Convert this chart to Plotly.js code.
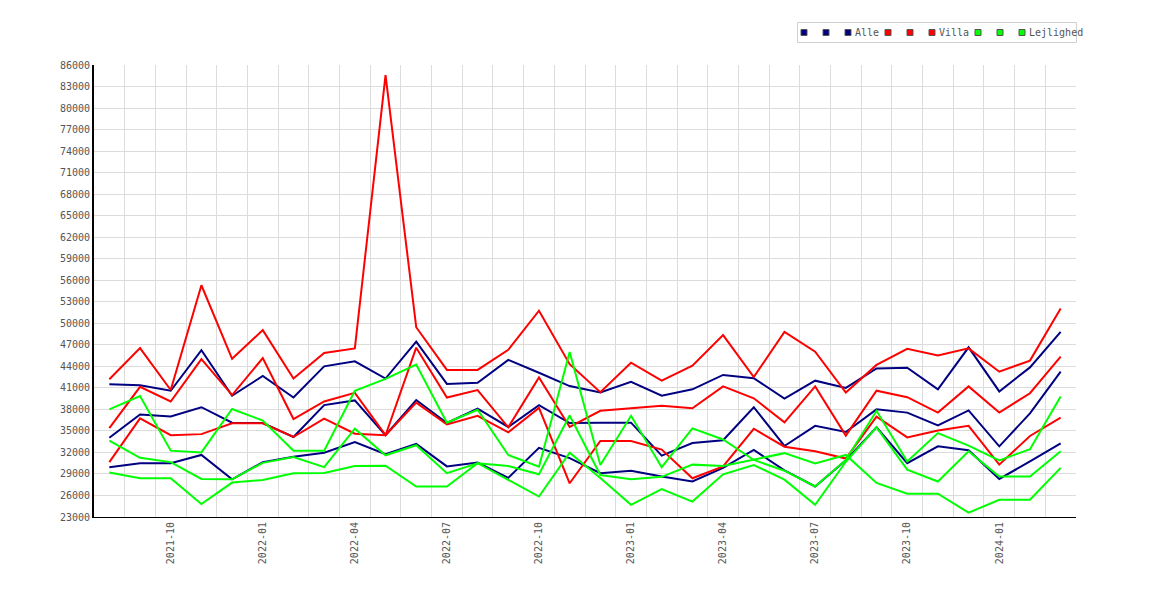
<!DOCTYPE html>
<html>
<head>
<meta charset="utf-8">
<script src="https://cdn.plot.ly/plotly-3.0.1.min.js"></script>
<style>
  body { margin: 0; background: #fff; }
  #chart { width: 1170px; height: 600px; }
</style>
</head>
<body>
<div id="chart"></div>
<script>
// months on the x axis, one point per month
const months = [
  "2021-08", "2021-09", "2021-10", "2021-11", "2021-12", "2022-01", "2022-02", "2022-03",
  "2022-04", "2022-05", "2022-06", "2022-07", "2022-08", "2022-09", "2022-10", "2022-11",
  "2022-12", "2023-01", "2023-02", "2023-03", "2023-04", "2023-05", "2023-06", "2023-07",
  "2023-08", "2023-09", "2023-10", "2023-11", "2023-12", "2024-01", "2024-02", "2024-03",
];

const alle1 = [41500, 41350, 40600, 46250, 39900, 42650, 39650, 44000, 44700, 42300, 47450, 41550, 41700, 44900, 43100, 41250, 40350, 41850, 39900, 40800, 42800, 42350, 39500, 42000, 41000, 43700, 43800, 40800, 46650, 40500, 43850, 48800];
const alle2 = [34050, 37300, 37000, 38300, 36150, 36100, 34150, 38600, 39250, 34400, 39300, 36100, 38100, 35550, 38600, 36100, 36150, 36150, 31550, 33300, 33700, 38300, 32900, 35700, 34850, 38000, 37550, 35750, 37850, 32850, 37450, 43250];
const alle3 = [29950, 30500, 30500, 31650, 28250, 30650, 31400, 31950, 33450, 31750, 33200, 30050, 30600, 28450, 32650, 31200, 29100, 29450, 28650, 27950, 29850, 32350, 29500, 27250, 30900, 35500, 30500, 32850, 32300, 28300, 30750, 33250];

const villa1 = [42200, 46550, 40700, 55300, 45050, 49050, 42300, 45850, 46500, 84600, 49450, 43500, 43500, 46300, 51750, 44300, 40400, 44500, 42000, 44100, 48350, 42500, 48800, 46050, 40350, 44200, 46450, 45500, 46500, 43250, 44800, 52050];
const villa2 = [35400, 41150, 39100, 45000, 40000, 45150, 36650, 39100, 40300, 34400, 46600, 39650, 40700, 35500, 42450, 35550, 37800, 38100, 38500, 38150, 41200, 39550, 36200, 41200, 34350, 40600, 39700, 37550, 41200, 37550, 40250, 45350];
const villa3 = [30650, 36750, 34400, 34550, 36050, 36050, 34150, 36700, 34600, 34400, 38950, 35900, 37100, 34800, 38200, 27700, 33600, 33600, 32400, 28400, 30050, 35300, 32800, 32150, 31150, 37000, 34100, 35050, 35700, 30300, 34300, 36850];

const lejl1 = [38000, 39850, 32250, 32000, 38050, 36450, 32250, 32250, 40600, 42250, 44250, 36150, 37950, 31650, 30000, 46000, 30250, 37100, 29950, 35350, 33800, 30950, 29450, 27250, 30950, 37800, 30750, 34700, 32950, 30900, 32450, 39800];
const lejl2 = [33650, 31250, 30650, 28300, 28250, 30550, 31350, 29950, 35300, 31600, 33000, 29100, 30500, 30100, 28950, 37150, 28850, 28250, 28600, 30300, 30100, 30950, 31900, 30450, 31650, 27750, 26250, 26250, 23600, 25400, 25400, 29850];
const lejl3 = [29200, 28400, 28400, 24800, 27800, 28150, 29100, 29150, 30100, 30150, 27250, 27250, 30500, 28150, 25850, 31950, 28450, 24700, 26900, 25150, 28950, 30250, 28200, 24700, 30700, 35500, 29600, 27950, 32150, 28650, 28650, 32150];

const groupNames = ["Alle", "Villa", "Lejlighed"];
const groupColors = ["#000080", "#ff0000", "#00ff00"];
const groupSeries = [[alle1, alle2, alle3], [villa1, villa2, villa3], [lejl1, lejl2, lejl3]];

const xIdx = months.map((m, i) => i);
// labels only on quarter months, grid lines between the months
const labelIdx = xIdx.filter((i) => /-(01|04|07|10)$/.test(months[i]));
const labelText = labelIdx.map((i) => months[i]);
const boundaries = xIdx.map((i) => i - 0.5).concat([months.length - 0.5]);

const traces = [];
groupSeries.forEach((series, g) => {
  series.forEach((ys) => {
    traces.push({
      type: "scatter",
      mode: "lines",
      x: xIdx,
      y: ys,
      line: { color: groupColors[g], width: 2 },
      hoverinfo: "skip",
    });
  });
});

// plot area in pixels, used to place the hand-made legend
const W = 1170, H = 600;
const M = { l: 94, r: 94, t: 65, b: 83 };
const px2x = (px) => (px - M.l) / (W - M.l - M.r);
const py2y = (py) => (H - M.b - py) / (H - M.t - M.b);

const shapes = [{
  type: "rect", xref: "paper", yref: "paper", layer: "above",
  x0: px2x(797.5), x1: px2x(1076.5), y0: py2y(42.5), y1: py2y(22.5),
  line: { color: "#d0d0d0", width: 1 }, fillcolor: "#fff",
}];
const annotations = [];
let cursor = 804;
const legendY = 32.5;
groupNames.forEach((name, g) => {
  for (let k = 0; k < 3; k++) {
    const cx = cursor + k * 22;
    shapes.push({
      type: "rect", xref: "paper", yref: "paper", layer: "above",
      x0: px2x(cx - 3), x1: px2x(cx + 3), y0: py2y(legendY + 3), y1: py2y(legendY - 3),
      line: { color: "#555", width: 1 }, fillcolor: groupColors[g],
    });
  }
  const last = cursor + 44;
  annotations.push({
    text: name, xref: "paper", yref: "paper", showarrow: false,
    x: px2x(last + 5), y: py2y(legendY), xanchor: "left", yanchor: "middle",
    font: { family: "DejaVu Sans Mono, monospace", size: 10, color: "#555" },
  });
  cursor = last + 16 + 6 * name.length;
});

const layout = {
  width: W,
  height: H,
  margin: { l: M.l, r: M.r, t: M.t, b: M.b, pad: 0 },
  paper_bgcolor: "#fff",
  plot_bgcolor: "#fff",
  showlegend: false,
  font: { family: "DejaVu Sans Mono, monospace", size: 10, color: "#555" },
  xaxis: {
    range: [-0.5, months.length - 0.5],
    tickmode: "array",
    tickvals: labelIdx,
    ticktext: labelText,
    tickangle: -90,
    ticks: "",
    showgrid: false,
    zeroline: false,
    showline: true,
    linecolor: "#000",
    linewidth: 1,
    minor: { tickmode: "array", tickvals: boundaries, showgrid: true, gridcolor: "#dcdcdc", gridwidth: 1, ticks: "" },
  },
  yaxis: {
    range: [23000, 86000],
    tickmode: "linear",
    tick0: 23000,
    dtick: 3000,
    tickformat: "d",
    ticks: "",
    showgrid: true,
    gridcolor: "#dcdcdc",
    gridwidth: 1,
    zeroline: false,
    showline: true,
    linecolor: "#000",
    linewidth: 2,
  },
  shapes: shapes,
  annotations: annotations,
};

Plotly.newPlot("chart", traces, layout, { staticPlot: true, displayModeBar: false });
</script>
</body>
</html>
